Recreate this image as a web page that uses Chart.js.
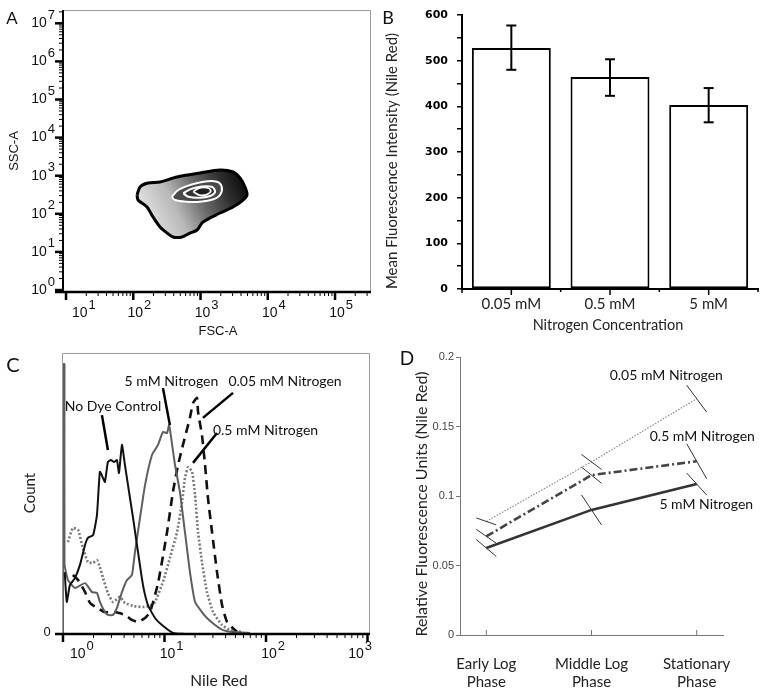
<!DOCTYPE html>
<html><head><meta charset="utf-8">
<script src="https://cdn.jsdelivr.net/npm/chart.js@4.4.1/dist/chart.umd.min.js"></script>
<style>
html,body{margin:0;padding:0;background:#fff}
#wrap{position:relative;width:763px;height:692px;overflow:hidden;background:#fff}
canvas{position:absolute;display:block}
</style></head><body>
<div id="wrap">
<canvas id="cA" width="380" height="345" style="left:0px;top:0px;width:380px;height:345px"></canvas>
<canvas id="cB" width="383" height="345" style="left:380px;top:0px;width:383px;height:345px"></canvas>
<canvas id="cC" width="380" height="347" style="left:0px;top:345px;width:380px;height:347px"></canvas>
<canvas id="cD" width="383" height="347" style="left:380px;top:345px;width:383px;height:347px"></canvas>
</div>
<script>
// ================= DATA =================
// Panel A: density contour outlines (log10 of FSC-A and SSC-A)
const outerFSC = [2.056,2.100,2.219,2.398,2.651,2.993,3.290,3.483,3.587,3.662,3.691,3.632,3.483,3.290,3.037,2.948,2.844,2.725,2.591,2.502,2.398,2.294,2.204,2.071,2.056];
const outerSSC = [2.493,2.703,2.808,2.835,2.966,3.071,3.150,3.097,2.940,2.703,2.493,2.362,2.178,2.021,1.785,1.575,1.496,1.391,1.391,1.496,1.654,1.916,2.178,2.362,2.493];
const ring1FSC = [2.572,2.670,2.844,3.042,3.241,3.315,3.290,3.190,2.993,2.795,2.621,2.572];
const ring1SSC = [2.449,2.625,2.756,2.843,2.843,2.711,2.493,2.381,2.318,2.318,2.362,2.449];
const ring2FSC = [2.744,2.844,2.993,3.167,3.216,3.141,2.993,2.819,2.744];
const ring2SSC = [2.538,2.643,2.711,2.711,2.580,2.467,2.423,2.449,2.538];
const ring3FSC = [2.893,2.967,3.092,3.152,3.101,2.982,2.893];
const ring3SSC = [2.580,2.669,2.685,2.606,2.512,2.493,2.580];
const aXDecades = [1,2,3,4,5];
const aYDecades = [0,1,2,3,4,5,6,7];

// Panel B: mean fluorescence by nitrogen concentration
const nitrogenLevels = ['0.05 mM','0.5 mM','5 mM'];
const meanFluor = [528, 464, 403];
const meanFluorLow = [480, 423, 365];
const meanFluorHigh = [577, 503, 440];

// Panel C: Nile Red histograms (x = Nile Red, y = count)
const noDyeX = [1.04,1.09,1.17,1.31,1.47,1.65,1.76,1.98,2.16,2.31,2.48,2.59,2.77,2.97,3.18,3.40,3.56,3.81,4.08,4.37,4.90,5.48,6.14,6.87,8.06,9.44,12.1,15.9];
const noDyeCount = [22,11.4,17.4,19.9,24.6,31.7,34.2,35.2,42.3,57.7,55.5,54.1,61.2,61.9,61.2,61.9,57.3,67.3,60.1,53.0,41.3,29.2,17.4,10.3,5.7,3.2,0.4,0];
const n5X = [1.0,1.0,1.035,1.035,1.12,1.31,1.65,1.93,2.16,2.31,2.59,2.77,3.11,3.40,3.81,4.27,4.78,5.12,5.74,6.43,7.53,8.63,9.66,10.6,11.1,11.9,12.7,14.2,15.9,17.8,20.0,23.4,26.2,31.5,37.7,47.3,69.5];
const n5Count = [0,96,96,25,19.2,16.4,18.1,14.9,14.6,11.4,7.8,6.8,6.8,9.3,14.9,19.2,21.0,29.2,41.3,53.0,63.7,67.3,71.9,71.5,74.4,67.3,60.1,50.5,36.3,22.1,11.4,7.8,5.7,3.2,1.4,0.7,0.4];
const n005X = [1.25,1.41,1.65,1.85,2.16,2.59,3.25,4.08,4.78,5.48,6.43,7.20,8.63,10.6,12.1,13.6,15.2,17.8,19.1,20.9,21.4,23.4,25.1,26.8,29.4,32.9,36.9,41.3,51.8];
const n005Count = [21.0,19.2,14.9,11.0,9.3,7.8,7.8,6.8,5.0,4.3,5.7,7.8,18.0,36.3,50.5,60.1,67.3,76.9,82.2,84.0,79.0,70.8,60.1,48.4,36.3,22.1,10.3,4.3,0.7];
const n05X = [1.12,1.25,1.41,1.57,1.76,1.98,2.16,2.31,2.48,2.77,3.11,3.64,4.08,4.90,6.14,7.20,8.06,9.66,11.3,13.3,14.9,15.9,17.1,18.7,20.0,21.4,23.4,26.2,30.1,36.9,44.2,59.3];
const n05Count = [32.7,37.7,37.0,30.6,25.6,25.3,26.3,23.8,19.9,14.6,11.4,13.2,11.0,10.0,9.6,10.0,11.4,18.5,27.0,36.3,47.0,55.5,59.4,57.7,49.5,36.3,25.6,14.9,7.8,3.2,1.4,0.7];
const cXDecades = [0,1,2,3];

// Panel D: relative fluorescence by growth phase
const phases = [['Early Log','Phase'],['Middle Log','Phase'],['Stationary','Phase']];
const rfu005 = [0.0817, 0.1245, 0.170];
const rfu05 = [0.071, 0.115, 0.125];
const rfu5 = [0.0626, 0.090, 0.1086];
const err005 = [0.0025, 0.0054, 0.0097];
const err05 = [0.0050, 0.0058, 0.0126];
const err5 = [0.0061, 0.0108, 0.0079];

// ================= HELPERS =================
const SANS_A = '"Liberation Sans", Arial, sans-serif';
const SANS_M = 'Lato, "Open Sans", sans-serif';
Chart.defaults.font.family = SANS_M;
Chart.defaults.color = '#222';
Chart.defaults.animation = false;

function fixSize(w, h){
  return function(s){
    if(w!=null) s.width=w;
    if(h!=null) s.height=h;
    s.paddingLeft=0; s.paddingRight=0; s.paddingTop=0; s.paddingBottom=0;
  };
}
function text(ctx, s, x, y, font, color, align, rot){
  ctx.save(); ctx.font=font; ctx.fillStyle=color||'#222';
  ctx.textAlign=align||'center'; ctx.textBaseline='middle';
  ctx.translate(x,y); if(rot) ctx.rotate(rot); ctx.fillText(s,0,0); ctx.restore();
}
function seg(ctx,x1,y1,x2,y2,color,w){
  ctx.save(); ctx.strokeStyle=color; ctx.lineWidth=w; ctx.beginPath();
  ctx.moveTo(x1,y1); ctx.lineTo(x2,y2); ctx.stroke(); ctx.restore();
}
function supLabel(ctx, exp, x, y, align, o){
  ctx.save();
  ctx.font=o.base; const wb=ctx.measureText('10').width;
  ctx.font=o.sup; const we=ctx.measureText(String(exp)).width;
  let left = align==='right' ? x-wb-1-we : x-wb/2;
  if(o.minLeft!=null) left=Math.max(left,o.minLeft);
  if(o.maxRight!=null) left=Math.min(left,o.maxRight-wb-1-we);
  ctx.fillStyle=o.color||'#111'; ctx.textBaseline='middle'; ctx.textAlign='left';
  ctx.font=o.base; ctx.fillText('10',left,y);
  ctx.font=o.sup; ctx.fillText(String(exp),left+wb+1,y-o.rise);
  ctx.restore();
}
function logTicks(ctx, scale, axis, pos, majorLen, minorLen){
  const lo=Math.floor(Math.log10(scale.min)), hi=Math.ceil(Math.log10(scale.max));
  ctx.save(); ctx.strokeStyle='#000';
  for(let e=lo;e<=hi;e++) for(let k=1;k<=9;k++){
    const v=k*Math.pow(10,e);
    if(v<scale.min||v>scale.max) continue;
    const p=scale.getPixelForValue(v);
    ctx.lineWidth = k===1?2.5:1;
    const len = k===1?majorLen:minorLen;
    ctx.beginPath();
    if(axis==='x'){ctx.moveTo(p,pos);ctx.lineTo(p,pos+len);} else {ctx.moveTo(pos,p);ctx.lineTo(pos-len,p);}
    ctx.stroke();
  }
  ctx.restore();
}
const polyPlugin = {
  id:'polyFill',
  beforeDatasetDraw(chart,args){
    const ds=chart.data.datasets[args.index];
    if(!ds.polyFill) return;
    const ctx=chart.ctx, meta=args.meta;
    ctx.save(); ctx.beginPath();
    let ok=false;
    try{ meta.dataset.updateControlPoints(chart.chartArea,'x'); meta.dataset.path(ctx); ok=true; }catch(e){ ok=false; }
    if(!ok){ ctx.beginPath(); meta.data.forEach((p,i)=> i?ctx.lineTo(p.x,p.y):ctx.moveTo(p.x,p.y)); }
    ctx.closePath();
    ctx.fillStyle = typeof ds.polyFill==='function' ? ds.polyFill(chart) : ds.polyFill;
    ctx.fill(); ctx.restore();
  }
};
const baseOpts = (pad) => ({
  responsive:false, devicePixelRatio:1, events:[], animation:false,
  layout:{padding:pad, autoPadding:false},
  plugins:{legend:{display:false}, tooltip:{enabled:false}}
});

// ================= PANEL A =================
const toLogPts = (lx,ly)=>lx.map((v,i)=>({x:Math.pow(10,v), y:Math.pow(10,ly[i])}));
function gradA(chart){
  const xs=chart.scales.x, ys=chart.scales.y, ctx=chart.ctx;
  const g=ctx.createLinearGradient(xs.getPixelForValue(Math.pow(10,2.25)), ys.getPixelForValue(Math.pow(10,1.65)),
                                   xs.getPixelForValue(Math.pow(10,3.65)), ys.getPixelForValue(Math.pow(10,2.85)));
  g.addColorStop(0,'#e2e2e2'); g.addColorStop(0.3,'#b8b8b8'); g.addColorStop(0.55,'#6a6a6a');
  g.addColorStop(0.8,'#303030'); g.addColorStop(1,'#0c0c0c');
  return g;
}
const panelA = {
  id:'panelA',
  afterDraw(chart){
    const ctx=chart.ctx, a=chart.chartArea, xs=chart.scales.x, ys=chart.scales.y;
    ctx.save();
    ctx.strokeStyle='#9a9a9a'; ctx.lineWidth=1;
    ctx.beginPath(); ctx.moveTo(a.left,a.top+0.5); ctx.lineTo(a.right-0.5,a.top+0.5); ctx.lineTo(a.right-0.5,a.bottom); ctx.stroke();
    ctx.restore();
    seg(ctx,a.left,a.top,a.left,a.bottom+1,'#000',2);
    seg(ctx,a.left-8,a.bottom,a.right,a.bottom,'#000',2.5);
    logTicks(ctx,xs,'x',a.bottom,8,4);
    logTicks(ctx,ys,'y',a.left,8,4);
    const ox={base:'14px '+SANS_A, sup:'13px '+SANS_A, rise:8, minLeft:a.left+9};
    aXDecades.forEach(e=>supLabel(ctx,e,xs.getPixelForValue(Math.pow(10,e))+2,a.bottom+21,'center',ox));
    const oy={base:'14px '+SANS_A, sup:'13px '+SANS_A, rise:8};
    aYDecades.forEach(e=>supLabel(ctx,e,a.left-8,ys.getPixelForValue(Math.pow(10,e)),'right',oy));
    text(ctx,'FSC-A',218,331,'13px '+SANS_A,'#111');
    text(ctx,'SSC-A',14,151,'13px '+SANS_A,'#111','center',-Math.PI/2);
    text(ctx,'A',12,19,'17px '+SANS_A,'#111');
  }
};
new Chart(document.getElementById('cA'),{
  type:'scatter',
  data:{datasets:[
    {label:'outer', data:toLogPts(outerFSC,outerSSC), showLine:true, tension:0.3, borderColor:'#000', borderWidth:3, pointRadius:0, order:4, polyFill:gradA},
    {label:'ring1', data:toLogPts(ring1FSC,ring1SSC), showLine:true, tension:0.35, borderColor:'#fff', borderWidth:2, pointRadius:0, order:3, polyFill:'#4a4a4a'},
    {label:'ring2', data:toLogPts(ring2FSC,ring2SSC), showLine:true, tension:0.35, borderColor:'#fff', borderWidth:2, pointRadius:0, order:2, polyFill:'#363636'},
    {label:'ring3', data:toLogPts(ring3FSC,ring3SSC), showLine:true, tension:0.35, borderColor:'#fff', borderWidth:1.8, pointRadius:0, order:1, polyFill:'#1e1e1e'}
  ]},
  options:Object.assign(baseOpts({top:10,right:9,left:0,bottom:0}),{
    scales:{
      x:{type:'logarithmic', min:Math.pow(10,0.955), max:Math.pow(10,5.535), ticks:{display:false}, grid:{display:false}, border:{display:false}, afterFit:fixSize(null,53)},
      y:{type:'logarithmic', min:Math.pow(10,-0.052), max:Math.pow(10,7.349), ticks:{display:false}, grid:{display:false}, border:{display:false}, afterFit:fixSize(63,null)}
    }
  }),
  plugins:[polyPlugin,panelA]
});

// ================= PANEL B =================
const panelB = {
  id:'panelB',
  afterDatasetsDraw(chart){
    const ctx=chart.ctx, ys=chart.scales.y, meta=chart.getDatasetMeta(0);
    meta.data.forEach((bar,i)=>{
      const yl=ys.getPixelForValue(meanFluorLow[i]), yh=ys.getPixelForValue(meanFluorHigh[i]);
      seg(ctx,bar.x,yl,bar.x,yh,'#000',2);
      seg(ctx,bar.x-5,yl,bar.x+5,yl,'#000',2);
      seg(ctx,bar.x-5,yh,bar.x+5,yh,'#000',2);
    });
  },
  afterDraw(chart){
    const ctx=chart.ctx, a=chart.chartArea, xs=chart.scales.x;
    for(let i=0;i<nitrogenLevels.length;i++){
      const c=xs.getPixelForValue(i);
      seg(ctx,c,a.bottom,c,a.bottom+6,'#000',1.5);
      const b=xs.getPixelForValue(i+0.5);
      seg(ctx,b,a.bottom,b,a.bottom+3,'#000',1.5);
    }
    seg(ctx,a.left,a.bottom,a.left,a.bottom+4,'#000',1.5);
    text(ctx,'Nitrogen Concentration',228,325,'14.5px '+SANS_M,'#222');
    text(ctx,'Mean Fluorescence Intensity (Nile Red)',12,161,'15px '+SANS_M,'#222','center',-Math.PI/2);
    text(ctx,'B',8,18,'18px '+SANS_M,'#111');
  }
};
new Chart(document.getElementById('cB'),{
  type:'bar',
  data:{labels:nitrogenLevels, datasets:[{data:meanFluor, backgroundColor:'#fff', borderColor:'#000', borderWidth:2, borderSkipped:false, barPercentage:0.8, categoryPercentage:1}]},
  options:Object.assign(baseOpts({top:15,right:5,left:0,bottom:0}),{
    scales:{
      x:{grid:{display:false}, border:{display:true,color:'#000',width:2}, ticks:{font:{family:SANS_M,size:15}, color:'#222', padding:-2, maxRotation:0, autoSkip:false}, afterFit:fixSize(null,56)},
      y:{min:0,max:600, ticks:{stepSize:50, callback:v=> v%100===0?String(v):'', font:{family:'"DejaVu Sans", sans-serif',size:11,weight:'bold'}, color:'#000', padding:9},
         grid:{drawOnChartArea:false, drawTicks:true, tickLength:5, color:'#000', lineWidth:1.5}, border:{display:true,color:'#000',width:2}, afterFit:fixSize(82,null)}
    }
  }),
  plugins:[panelB]
});

// ================= PANEL C =================
const toXY=(xs,ys)=>xs.map((v,i)=>({x:v,y:ys[i]}));
const cLabels = [
  {t:'No Dye Control', x:3.11, y:80.8, lx1:2.42, ly1:77.9, lx2:2.77, ly2:65.5},
  {t:'5 mM Nitrogen', x:11.7, y:89.7, lx1:9.66, ly1:87.5, lx2:11.3, ly2:74.4},
  {t:'0.05 mM Nitrogen', x:154, y:89.7, lx1:47.3, ly1:85.8, lx2:23.9, ly2:76.9},
  {t:'0.5 mM Nitrogen', x:98.9, y:72.6, lx1:32.9, ly1:71.5, lx2:19.1, ly2:60.9}
];
const panelC = {
  id:'panelC',
  afterDraw(chart){
    const ctx=chart.ctx, a=chart.chartArea, xs=chart.scales.x, ys=chart.scales.y;
    ctx.save();
    ctx.strokeStyle='#9a9a9a'; ctx.lineWidth=1;
    ctx.beginPath(); ctx.moveTo(a.left+0.5,a.bottom); ctx.lineTo(a.left+0.5,a.top+0.5); ctx.lineTo(a.right-0.5,a.top+0.5); ctx.lineTo(a.right-0.5,a.bottom); ctx.stroke();
    ctx.restore();
    seg(ctx,a.left-7,a.bottom,a.right,a.bottom,'#000',2.5);
    logTicks(ctx,xs,'x',a.bottom,8,4);
    const ox={base:'14px '+SANS_A, sup:'13px '+SANS_A, rise:8, minLeft:a.left+8, maxRight:a.right+2};
    cXDecades.forEach(e=>supLabel(ctx,e,xs.getPixelForValue(Math.pow(10,e))+3,a.bottom+20,'center',ox));
    text(ctx,'0',a.left-15,ys.getPixelForValue(0)-2,'13px '+SANS_A,'#111');
    cLabels.forEach(L=>{
      seg(ctx,xs.getPixelForValue(L.lx1),ys.getPixelForValue(L.ly1),xs.getPixelForValue(L.lx2),ys.getPixelForValue(L.ly2),'#000',2.5);
      text(ctx,L.t,xs.getPixelForValue(L.x),ys.getPixelForValue(L.y),'14px '+SANS_M,'#111');
    });
    text(ctx,'Nile Red',219,336,'15.5px '+SANS_M,'#222');
    text(ctx,'Count',30,148,'15px '+SANS_M,'#222','center',-Math.PI/2);
    text(ctx,'C',13,21,'20px '+SANS_M,'#111');
  }
};
const lineDs=(label,xs,ys,color,w,dash)=>({label, data:toXY(xs,ys), showLine:true, pointRadius:0, borderColor:color, borderWidth:w, borderDash:dash||[], tension:0.15});
new Chart(document.getElementById('cC'),{
  type:'scatter',
  data:{datasets:[
    lineDs('No Dye Control',noDyeX,noDyeCount,'#111',2),
    lineDs('5 mM Nitrogen',n5X,n5Count,'#5e5e5e',2),
    lineDs('0.05 mM Nitrogen',n005X,n005Count,'#111',2.6,[9,6]),
    lineDs('0.5 mM Nitrogen',n05X,n05Count,'#7a7a7a',2.6,[2,2])
  ]},
  options:Object.assign(baseOpts({top:8,right:10,left:0,bottom:0}),{
    scales:{
      x:{type:'logarithmic', min:0.978, max:1058, ticks:{display:false}, grid:{display:false}, border:{display:false}, afterFit:fixSize(null,58)},
      y:{min:0, max:100, ticks:{display:false}, grid:{display:false}, border:{display:false}, afterFit:fixSize(62,null)}
    }
  }),
  plugins:[panelC]
});

// ================= PANEL D =================
const dLabels = [
  {t:'0.05 mM Nitrogen', x:1.711, y:0.187},
  {t:'0.5 mM Nitrogen', x:2.053, y:0.143},
  {t:'5 mM Nitrogen', x:2.091, y:0.0942}
];
const dSeries = [[rfu5,err5],[rfu05,err05],[rfu005,err005]];
const panelD = {
  id:'panelD',
  afterDatasetsDraw(chart){
    const ctx=chart.ctx, xs=chart.scales.x, ys=chart.scales.y;
    dSeries.forEach(([vals,errs])=>{
      vals.forEach((v,i)=>{
        seg(ctx,xs.getPixelForValue(i-0.095),ys.getPixelForValue(v+errs[i]),xs.getPixelForValue(i+0.095),ys.getPixelForValue(v-errs[i]),'#333',1);
      });
    });
  },
  afterDraw(chart){
    const ctx=chart.ctx, a=chart.chartArea, xs=chart.scales.x;
    [0,1,2].forEach(i=>{const p=xs.getPixelForValue(i); seg(ctx,p,a.bottom+1,p,a.bottom-5,'#777',1);});
    dLabels.forEach(L=>text(ctx,L.t,xs.getPixelForValue(L.x),chart.scales.y.getPixelForValue(L.y),'14px '+SANS_M,'#111'));
    text(ctx,'Relative Fluorescence Units (Nile Red)',42,159,'16px '+SANS_M,'#222','center',-Math.PI/2);
    text(ctx,'D',27,14,'19px '+SANS_M,'#111');
  }
};
const dDs=(label,vals,color,w,dash)=>({label, data:vals.map((v,i)=>({x:i,y:v})), showLine:true, pointRadius:0, borderColor:color, borderWidth:w, borderDash:dash||[]});
new Chart(document.getElementById('cD'),{
  type:'scatter',
  data:{datasets:[
    dDs('5 mM Nitrogen',rfu5,'#333',2.6),
    dDs('0.5 mM Nitrogen',rfu05,'#444',2.6,[8,3,2,3]),
    dDs('0.05 mM Nitrogen',rfu005,'#8a8a8a',1.2,[1.5,1.5])
  ]},
  options:Object.assign(baseOpts({top:12,right:40,left:0,bottom:0}),{
    scales:{
      x:{type:'linear', min:-0.25, max:2.25, afterBuildTicks:s=>{s.ticks=[0,1,2].map(v=>({value:v}));},
         ticks:{callback:v=>phases[v], font:{family:SANS_M,size:15}, color:'#222', padding:12, maxRotation:0, autoSkip:false},
         grid:{display:false}, border:{display:true,color:'#777',width:1}, afterFit:fixSize(null,57)},
      y:{min:0, max:0.2, ticks:{stepSize:0.05, callback:v=>String(Math.round(v*100)/100), font:{family:SANS_A,size:11}, color:'#444', padding:2},
         grid:{drawOnChartArea:false, tickLength:4, color:'#777'}, border:{display:true,color:'#777',width:1}, afterFit:fixSize(80,null)}
    }
  }),
  plugins:[panelD]
});
</script>
</body></html>
